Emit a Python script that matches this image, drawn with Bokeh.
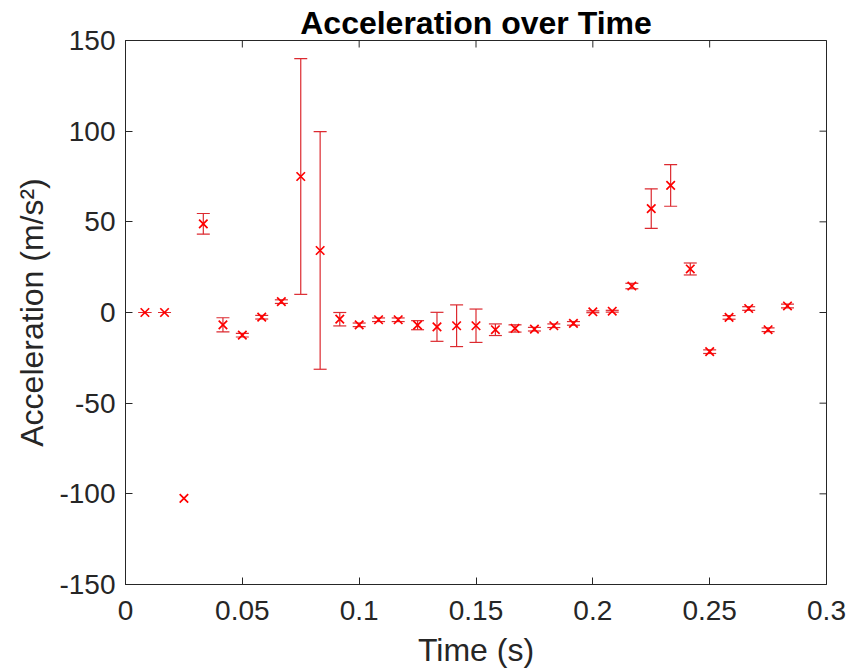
import math
from bokeh.plotting import figure
from bokeh.models import ColumnDataSource, Whisker, TeeHead, FixedTicker, Range1d
from bokeh.embed import file_html
from bokeh.resources import INLINE

# ---- data ----
time_s = [0.0083, 0.0167, 0.025, 0.0333, 0.0417, 0.05, 0.0583, 0.0667, 0.075, 0.0833,
          0.0917, 0.1, 0.1083, 0.1167, 0.125, 0.1333, 0.1417, 0.15, 0.1583, 0.1667,
          0.175, 0.1833, 0.1917, 0.2, 0.2083, 0.2167, 0.225, 0.2333, 0.2417, 0.25,
          0.2583, 0.2667, 0.275, 0.2833]
accel = [0, 0, -102.5, 48.9, -6.8, -12.5, -2.6, 6, 75, 34.2,
         -3.7, -6.8, -4, -4, -7, -7.9, -7.3, -7.3, -9.5, -8.8,
         -9.2, -7.3, -6, 0.4, 0.7, 14.6, 57.3, 70.1, 24, -21.6,
         -2.7, 2.2, -9.5, 3.6]
accel_err = [0, 0, float("nan"), 5.7, 3.9, 1, 1, 1, 65, 65.5,
             3.7, 1, 1, 1, 2.5, 8, 11.5, 9.2, 3.2, 2,
             1, 1, 1, 0.5, 0.5, 1.5, 10.9, 11.5, 3.3, 1,
             1, 1, 1, 1]

x_ticks = [0, 0.05, 0.1, 0.15, 0.2, 0.25, 0.3]
x_tick_labels = ["0", "0.05", "0.1", "0.15", "0.2", "0.25", "0.3"]
y_ticks = [-150, -100, -50, 0, 50, 100, 150]
y_tick_labels = ["-150", "-100", "-50", "0", "50", "100", "150"]
x_min, x_max = 0, 0.3
y_min, y_max = -150, 150

title_text = "Acceleration over Time"
x_label = "Time (s)"
y_label = "Acceleration (m/s\u00b2)"

FONT = "Liberation Sans"
AXIS_COLOR = "#262626"
MARK_COLOR = "#ff0000"
BAR_COLOR = "#dc2a30"

lower = [a - e if not math.isnan(e) else float("nan") for a, e in zip(accel, accel_err)]
upper = [a + e if not math.isnan(e) else float("nan") for a, e in zip(accel, accel_err)]
src = ColumnDataSource(dict(t=time_s, a=accel, lo=lower, hi=upper))

p = figure(width=846, height=670, output_backend="svg", toolbar_location=None,
           x_range=Range1d(x_min, x_max), y_range=Range1d(y_min, y_max),
           min_border_left=125, min_border_right=20, min_border_top=40, min_border_bottom=85)

p.title.text = title_text
p.title.align = "center"
p.title.text_font = FONT
p.title.text_font_size = "32px"
p.title.text_font_style = "bold"
p.title.text_color = "#000000"
p.title.standoff = 0
p.title.offset = 0
p.title.text_line_height = 0.9

p.xgrid.visible = False
p.ygrid.visible = False
p.outline_line_color = AXIS_COLOR
p.outline_line_width = 1
p.background_fill_color = "white"
p.border_fill_color = "white"

def style_axis(ax, ticks, labels):
    ax.ticker = FixedTicker(ticks=ticks)
    ax.major_label_overrides = {t: l for t, l in zip(ticks, labels)}
    ax.minor_tick_line_color = None
    ax.major_tick_in = 7
    ax.major_tick_out = 0
    ax.axis_line_color = AXIS_COLOR
    ax.major_tick_line_color = AXIS_COLOR
    ax.major_label_text_font = FONT
    ax.major_label_text_color = AXIS_COLOR
    ax.major_label_text_font_size = "28px"
    ax.axis_label_text_font = FONT
    ax.axis_label_text_color = AXIS_COLOR
    ax.axis_label_text_font_style = "normal"
    ax.axis_label_text_font_size = "32px"

xa = p.xaxis[0]
ya = p.yaxis[0]
style_axis(xa, x_ticks, x_tick_labels)
style_axis(ya, y_ticks, y_tick_labels)
xa.axis_label = x_label
ya.axis_label = y_label
xa.major_label_standoff = 16
xa.axis_label_standoff = 9
ya.major_label_standoff = 10
ya.axis_label_standoff = 6

# mirrored inward ticks on top and right edges (dash markers clipped by the frame)
p.scatter(x=x_ticks, y=[y_max] * len(x_ticks), marker="dash", size=14, angle=math.pi / 2,
          line_color=AXIS_COLOR, line_width=1)
p.scatter(x=[x_max] * len(y_ticks), y=y_ticks, marker="dash", size=14,
          line_color=AXIS_COLOR, line_width=1)

wh = Whisker(source=src, base="t", lower="lo", upper="hi", dimension="height",
             line_color=BAR_COLOR, line_width=1.2,
             upper_head=TeeHead(size=13, line_color=BAR_COLOR, line_width=1.2),
             lower_head=TeeHead(size=13, line_color=BAR_COLOR, line_width=1.2))
p.add_layout(wh)

p.scatter("t", "a", source=src, marker="x", size=12, line_color=MARK_COLOR, line_width=1.7)

open("out.html", "w").write(file_html(p, INLINE))
